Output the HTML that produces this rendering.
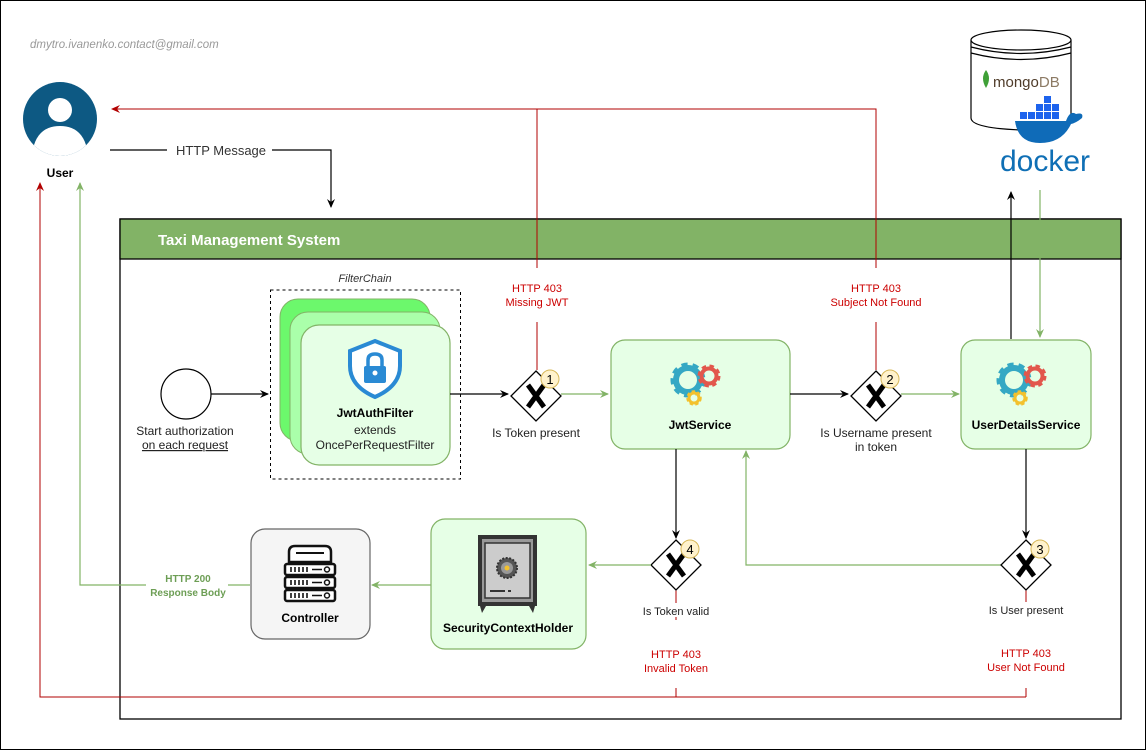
<!DOCTYPE html>
<html><head><meta charset="utf-8"><style>
html,body{margin:0;padding:0;background:#fff}
svg{display:block}
text{font-family:"Liberation Sans",Arial,sans-serif}
</style></head><body>
<svg width="1147" height="751" viewBox="0 0 1147 751" xmlns="http://www.w3.org/2000/svg">
<defs>
<marker id="ab" markerWidth="10" markerHeight="10" refX="8" refY="5" orient="auto" markerUnits="userSpaceOnUse"><path d="M0,1 L9,5 L0,9 L3,5 Z" fill="#000"/></marker>
<marker id="ar" markerWidth="10" markerHeight="10" refX="8" refY="5" orient="auto" markerUnits="userSpaceOnUse"><path d="M0,1 L9,5 L0,9 L3,5 Z" fill="#b20000"/></marker>
<marker id="ag" markerWidth="10" markerHeight="10" refX="8" refY="5" orient="auto" markerUnits="userSpaceOnUse"><path d="M0,1 L9,5 L0,9 L3,5 Z" fill="#82b366"/></marker>
<clipPath id="uc"><circle cx="60" cy="119" r="37"/></clipPath>
<g id="gears">
<circle r="14" fill="none" stroke="#35a8c4" stroke-width="7" stroke-dasharray="5.5 4.5"/><circle r="12" fill="none" stroke="#35a8c4" stroke-width="6"/>
<g transform="translate(21,-4)"><circle r="9" fill="none" stroke="#e2574c" stroke-width="5" stroke-dasharray="4 3.1"/><circle r="7.5" fill="none" stroke="#e2574c" stroke-width="4"/></g>
<g transform="translate(6,18)"><circle r="6" fill="none" stroke="#f3c12d" stroke-width="3.5" stroke-dasharray="3 2.2"/><circle r="5" fill="none" stroke="#f3c12d" stroke-width="3"/></g>
</g>
<g id="dia"><path d="M0,-25 L25,0 L0,25 L-25,0 Z" fill="#fff" stroke="#000" stroke-width="1.3"/><path d="M-8,-11 L8,11 M8,-11 L-8,11" stroke="#000" stroke-width="5"/></g>
<g id="srv"><rect x="0" y="0" width="50" height="11" rx="2" fill="#fff" stroke="#111" stroke-width="2.5"/><path d="M6,3 V8 M10,3 V8 M14,3 V8 M18,3 V8 M22,3 V8 M27,5.5 H37" stroke="#111" stroke-width="1.6"/><circle cx="42" cy="5.5" r="2.5" fill="none" stroke="#111" stroke-width="1.5"/></g>
</defs>
<rect x="0.5" y="0.5" width="1145" height="749" fill="#fff" stroke="#000" stroke-width="1"/>
<text x="30" y="48" font-size="11.5" font-style="italic" fill="#999">dmytro.ivanenko.contact@gmail.com</text>

<!-- user -->
<circle cx="60" cy="119" r="37" fill="#0d5983"/>
<circle cx="60" cy="110" r="12" fill="#fff"/>
<path d="M34,160 V145 Q40,126 60,126 Q80,126 86,145 V160Z" fill="#fff" clip-path="url(#uc)"/>
<text x="60" y="177" font-size="12" font-weight="bold" text-anchor="middle">User</text>

<!-- http message -->
<path d="M272,150 H331 V207" fill="none" stroke="#000" stroke-width="1.2" marker-end="url(#ab)"/>
<path d="M110,150 H167" stroke="#000" stroke-width="1.2"/>
<text x="221" y="155" font-size="13" text-anchor="middle" fill="#333">HTTP Message</text>

<!-- container -->
<rect x="120" y="219" width="1001" height="500" fill="#fff" stroke="#000" stroke-width="1.3"/>
<rect x="120" y="219" width="1001" height="40" fill="#82b366" stroke="#000" stroke-width="1.3"/>
<text x="158" y="245" font-size="15" font-weight="bold" fill="#fff">Taxi Management System</text>

<!-- red top lines -->
<path d="M537,370 V322 M537,268 V109 H876 V268 M876,322 V370" fill="none" stroke="#b20000" stroke-width="1"/>
<path d="M537,109 H112" fill="none" stroke="#b20000" stroke-width="1" marker-end="url(#ar)"/>
<text x="537" y="292" font-size="11" fill="#cc0000" text-anchor="middle">HTTP 403</text>
<text x="537" y="306" font-size="11" fill="#cc0000" text-anchor="middle">Missing JWT</text>
<text x="876" y="292" font-size="11" fill="#cc0000" text-anchor="middle">HTTP 403</text>
<text x="876" y="306" font-size="11" fill="#cc0000" text-anchor="middle">Subject Not Found</text>

<!-- red bottom lines -->
<path d="M676,590 V620 M676,688 V697 M1026,590 V616 M1026,688 V697 M1026,697 H40 V183" fill="none" stroke="#b20000" stroke-width="1" marker-end="url(#ar)"/>
<text x="676" y="658" font-size="11" fill="#cc0000" text-anchor="middle">HTTP 403</text>
<text x="676" y="672" font-size="11" fill="#cc0000" text-anchor="middle">Invalid Token</text>
<text x="1026" y="657" font-size="11" fill="#cc0000" text-anchor="middle">HTTP 403</text>
<text x="1026" y="671" font-size="11" fill="#cc0000" text-anchor="middle">User Not Found</text>

<!-- green return -->
<path d="M146,585 H80 V183" fill="none" stroke="#82b366" stroke-width="1.2" marker-end="url(#ag)"/>
<path d="M250,585 H228" stroke="#82b366" stroke-width="1.2"/>
<text x="188" y="582" font-size="10" font-weight="bold" fill="#6d9e55" text-anchor="middle">HTTP 200</text>
<text x="188" y="596" font-size="10" font-weight="bold" fill="#6d9e55" text-anchor="middle">Response Body</text>

<!-- start -->
<circle cx="186" cy="394" r="25" fill="#fff" stroke="#000" stroke-width="1.2"/>
<text x="185" y="435" font-size="12" text-anchor="middle" fill="#222">Start authorization</text>
<text x="185" y="449" font-size="12" text-anchor="middle" fill="#222" text-decoration="underline">on each request</text>
<path d="M211,394 H268" stroke="#000" stroke-width="1.2" marker-end="url(#ab)"/>

<!-- filter chain -->
<text x="365" y="282" font-size="11" font-style="italic" text-anchor="middle" fill="#333">FilterChain</text>
<rect x="270.5" y="290" width="190" height="189" fill="none" stroke="#000" stroke-dasharray="3 3"/>
<rect x="280" y="299" width="150" height="142" rx="18" fill="#6cf86c" stroke="#82b366"/>
<rect x="290" y="312" width="150" height="142" rx="18" fill="#aaffaa" stroke="#82b366"/>
<rect x="301" y="325" width="149" height="140" rx="18" fill="#e6ffe6" stroke="#82b366" stroke-width="1.2"/>
<path d="M375,341 L400,351 V366 Q400,386 375,397 Q350,386 350,366 V351 Z" fill="#fff" stroke="#2a8ad4" stroke-width="4"/>
<rect x="364" y="366" width="22" height="17" rx="2" fill="#2a8ad4"/>
<path d="M368,366 V360 Q368,354 375,354 Q382,354 382,360 V366" fill="none" stroke="#2a8ad4" stroke-width="3.5"/>
<circle cx="375" cy="373" r="2.5" fill="#fff"/>
<text x="375" y="417" font-size="12" font-weight="bold" text-anchor="middle">JwtAuthFilter</text>
<text x="375" y="434" font-size="12" text-anchor="middle" fill="#222">extends</text>
<text x="375" y="449" font-size="12" text-anchor="middle" fill="#222">OncePerRequestFilter</text>
<path d="M450,394 H508" stroke="#000" stroke-width="1.2" marker-end="url(#ab)"/>

<!-- diamond 1 -->
<use href="#dia" x="536" y="396"/>
<circle cx="550" cy="379" r="9" fill="#fff2cc" stroke="#d6b656"/>
<text x="550" y="384" font-size="13" text-anchor="middle">1</text>
<text x="536" y="437" font-size="12" text-anchor="middle" fill="#222">Is Token present</text>
<path d="M561,394 H608" stroke="#82b366" stroke-width="1.2" marker-end="url(#ag)"/>

<!-- JwtService -->
<rect x="611" y="340" width="179" height="109" rx="14" fill="#e6ffe6" stroke="#82b366" stroke-width="1.2"/>
<use href="#gears" x="688" y="380"/>
<text x="700" y="429" font-size="12" font-weight="bold" text-anchor="middle">JwtService</text>
<path d="M790,394 H848" stroke="#000" stroke-width="1.2" marker-end="url(#ab)"/>

<!-- diamond 2 -->
<use href="#dia" x="876" y="396"/>
<circle cx="890" cy="379" r="9" fill="#fff2cc" stroke="#d6b656"/>
<text x="890" y="384" font-size="13" text-anchor="middle">2</text>
<text x="876" y="437" font-size="12" text-anchor="middle" fill="#222">Is Username present</text>
<text x="876" y="451" font-size="12" text-anchor="middle" fill="#222">in token</text>
<path d="M901,394 H959" stroke="#82b366" stroke-width="1.2" marker-end="url(#ag)"/>

<!-- UserDetailsService -->
<rect x="961" y="340" width="130" height="109" rx="14" fill="#e6ffe6" stroke="#82b366" stroke-width="1.2"/>
<use href="#gears" x="1014" y="380"/>
<text x="1026" y="429" font-size="12" font-weight="bold" text-anchor="middle">UserDetailsService</text>
<path d="M1011,339 V192" stroke="#000" stroke-width="1.2" marker-end="url(#ab)"/>
<path d="M1040,190 V337" stroke="#82b366" stroke-width="1.2" marker-end="url(#ag)"/>

<!-- DB -->
<path d="M971,40 V118 Q971,128 1021,130 Q1071,128 1071,118 V40" fill="#fff" stroke="#000" stroke-width="1.2"/>
<ellipse cx="1021" cy="40" rx="50" ry="10" fill="#fff" stroke="#000" stroke-width="1.2"/>
<path d="M971,47 Q1021,60 1071,47 M971,53 Q1021,66 1071,53" fill="none" stroke="#000" stroke-width="1.2"/>
<path d="M986,70 Q980,78 986,88 Q992,78 986,70Z" fill="#3fa037"/>
<text x="993" y="87" font-size="15" font-family="Liberation Serif,serif" fill="#4f3c2a">mongo<tspan fill="#8c7a64">DB</tspan></text>
<g fill="#1d63ed">
<rect x="1044" y="96" width="7" height="7"/><rect x="1036" y="104" width="7" height="7"/><rect x="1044" y="104" width="7" height="7"/><rect x="1052" y="104" width="7" height="7"/>
<rect x="1020" y="112" width="7" height="7"/><rect x="1028" y="112" width="7" height="7"/><rect x="1036" y="112" width="7" height="7"/><rect x="1044" y="112" width="7" height="7"/><rect x="1052" y="112" width="7" height="7"/>
<path d="M1015,121 H1066 Q1070,110 1076,114 Q1084,112 1082,118 Q1076,123 1071,124 Q1062,143 1040,143 Q1018,143 1015,121Z" fill="#0f6bb8"/>
</g>
<text x="1045" y="171" font-size="30" fill="#0f6fb5" text-anchor="middle" font-family="DejaVu Sans,sans-serif">docker</text>

<!-- JwtService to diamond 4 -->
<path d="M676,449 V538" stroke="#000" stroke-width="1.2" marker-end="url(#ab)"/>
<path d="M1001,565 H746 V451" fill="none" stroke="#82b366" stroke-width="1.2" marker-end="url(#ag)"/>
<path d="M1026,449 V538" stroke="#000" stroke-width="1.2" marker-end="url(#ab)"/>

<use href="#dia" x="676" y="565"/>
<circle cx="690" cy="549" r="9" fill="#fff2cc" stroke="#d6b656"/>
<text x="690" y="554" font-size="13" text-anchor="middle">4</text>
<rect x="640" y="603" width="72" height="14" fill="#fff"/>
<text x="676" y="615" font-size="11" text-anchor="middle" fill="#222">Is Token valid</text>

<use href="#dia" x="1026" y="565"/>
<circle cx="1040" cy="549" r="9" fill="#fff2cc" stroke="#d6b656"/>
<text x="1040" y="554" font-size="13" text-anchor="middle">3</text>
<rect x="984" y="602" width="84" height="14" fill="#fff"/>
<text x="1026" y="614" font-size="11" text-anchor="middle" fill="#222">Is User present</text>

<path d="M651,565 H589" stroke="#82b366" stroke-width="1.2" marker-end="url(#ag)"/>

<!-- SecurityContextHolder -->
<rect x="431" y="519" width="155" height="130" rx="14" fill="#e6ffe6" stroke="#82b366" stroke-width="1.2"/>
<rect x="478" y="535" width="59" height="71" fill="#333"/>
<rect x="482" y="539" width="51" height="63" fill="#999"/>
<rect x="485" y="543" width="45" height="55" fill="#ccc" stroke="#333" stroke-width="1.5"/>
<circle cx="507" cy="568" r="10" fill="#555" stroke="#333" stroke-width="2" stroke-dasharray="2 1.5"/>
<circle cx="507" cy="568" r="6" fill="#999"/><circle cx="507" cy="568" r="2.5" fill="#f3c12d"/>
<rect x="490" y="590" width="15" height="2" fill="#333"/><rect x="508" y="590" width="3" height="2" fill="#333"/>
<path d="M480,606 L486,606 L482,613 Z M535,606 L529,606 L533,613 Z" fill="#333"/>
<text x="508" y="632" font-size="12" font-weight="bold" text-anchor="middle">SecurityContextHolder</text>
<path d="M431,585 H372" stroke="#82b366" stroke-width="1.2" marker-end="url(#ag)"/>

<!-- Controller -->
<rect x="251" y="529" width="119" height="110" rx="14" fill="#f5f5f5" stroke="#666" stroke-width="1.2"/>
<path d="M289,562 V552 Q289,546 295,546 H325 Q331,546 331,552 V562 Z" fill="#fff" stroke="#111" stroke-width="2.5"/>
<path d="M296,553 H324" stroke="#111" stroke-width="2"/>
<use href="#srv" x="285" y="564"/>
<use href="#srv" x="285" y="577"/>
<use href="#srv" x="285" y="590"/>
<text x="310" y="622" font-size="12" font-weight="bold" text-anchor="middle">Controller</text>
</svg>
</body></html>
